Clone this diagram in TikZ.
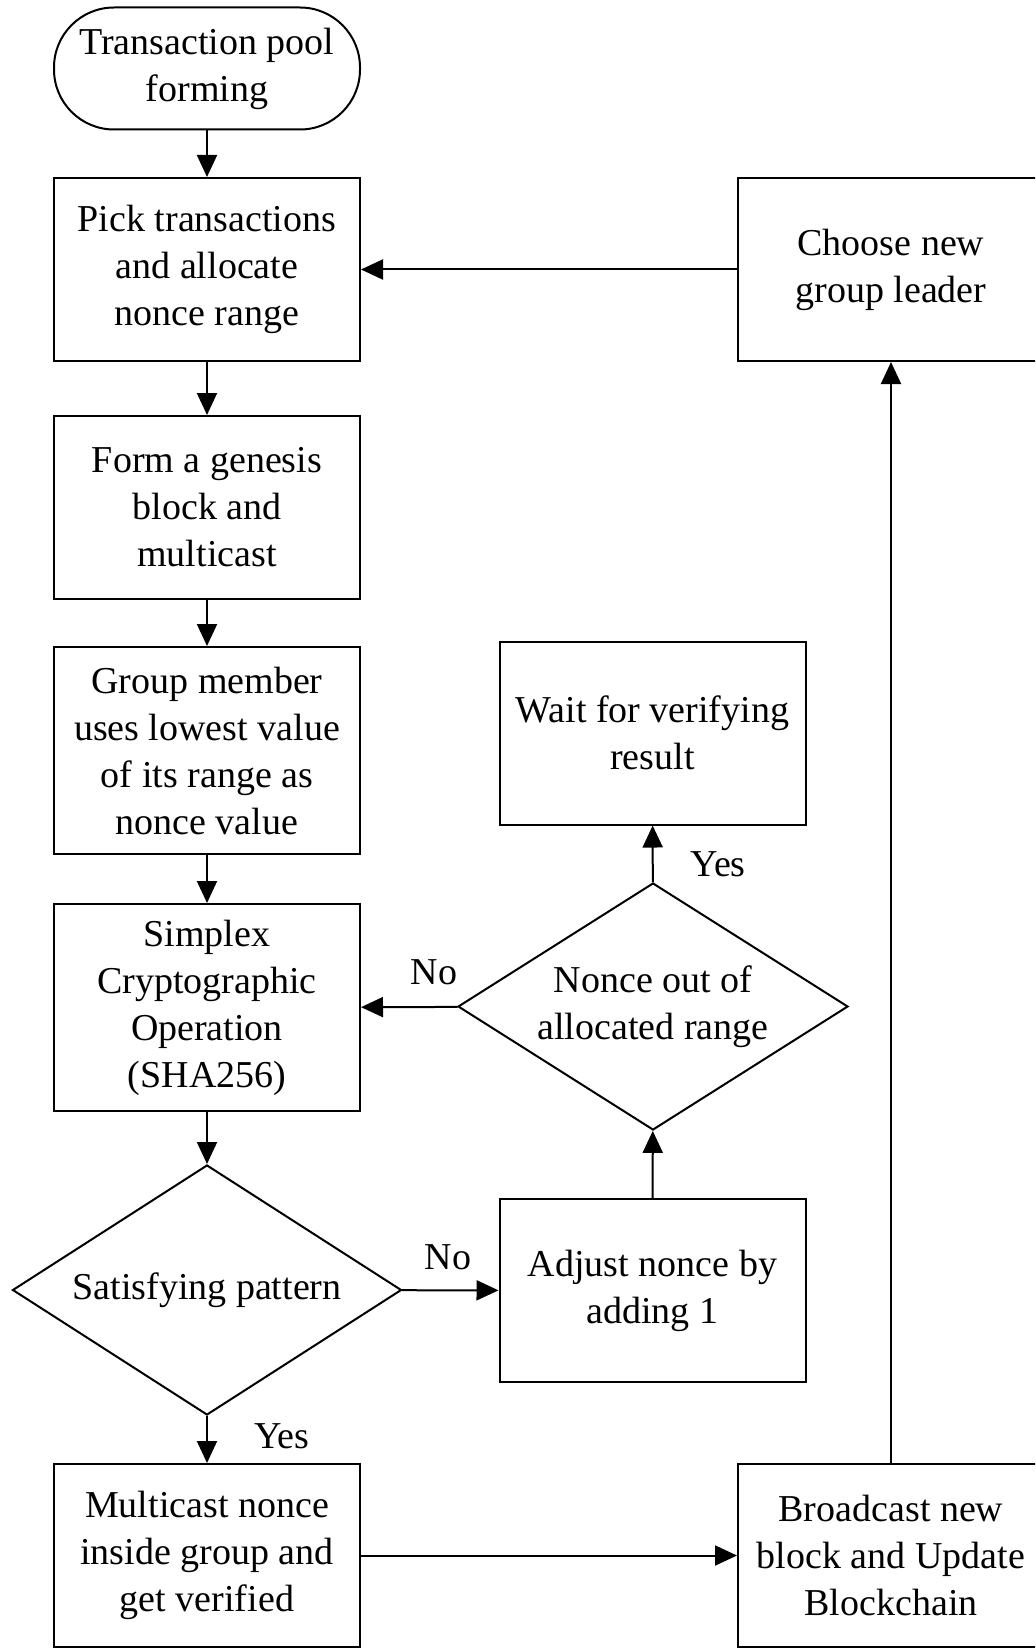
\documentclass[tikz,border=0pt]{standalone}
\usepackage{fontspec}
\setmainfont{Liberation Serif}
\usetikzlibrary{shapes.geometric,arrows.meta}
\begin{document}
\begin{tikzpicture}[x=0.5pt,y=-0.5pt,
  every node/.style={font=\fontsize{19}{23.5}\selectfont, align=center},
  box/.style={draw, line width=1pt, minimum width=153pt, minimum height=91.5pt, inner sep=0pt},
  tall/.style={box, minimum height=103.5pt},
  term/.style={draw, line width=1pt, rounded corners=30pt, minimum width=153pt, minimum height=61pt, inner sep=0pt},
  dec/.style={draw, line width=1pt, diamond, shape aspect=1.56, inner sep=0pt},
  arr/.style={line width=1pt, -{Triangle[length=11pt,width=10pt]}},
  lab/.style={inner sep=0pt}]
\clip (0,0) rectangle (1035,1648);
\node[term] (term) at (207,68.5) {Transaction pool\\forming};
\node[box] (pick) at (207,269.5) {Pick transactions\\and allocate\\nonce range};
\node[box] (form) at (207,507.5) {Form a genesis\\block and\\multicast};
\node[tall] (group) at (207,750.5) {Group member\\uses lowest value\\of its range as\\nonce value};
\node[tall] (simplex) at (207,1007.5) {Simplex\\Cryptographic\\Operation\\(SHA256)};
\node[dec, minimum width=194.5pt, minimum height=125pt] (sat) at (207,1290) {Satisfying pattern};
\node[box] (multi) at (207,1555.5) {Multicast nonce\\inside group and\\get verified};
\node[box] (adjust) at (652.5,1290.5) {Adjust nonce by\\adding 1};
\node[dec, minimum width=195pt, minimum height=123.5pt] (range) at (653,1006.5) {Nonce out of\\allocated range};
\node[box] (wait) at (652.5,733) {Wait for verifying\\result};
\node[box] (broad) at (891,1555.5) {Broadcast new\\block and Update\\Blockchain};
\node[box] (choose) at (891,269.5) {Choose new\\group leader};

\draw[arr] (term) -- (pick);
\draw[arr] (pick) -- (form);
\draw[arr] (form) -- (group);
\draw[arr] (group) -- (simplex);
\draw[arr] (simplex) -- (sat);
\draw[arr] (sat) -- (multi);
\draw[arr] (sat) -- (adjust);
\draw[arr] (adjust) -- (range);
\draw[arr] (range) -- (wait);
\draw[arr] (range) -- (simplex);
\draw[arr] (multi) -- (broad);
\draw[arr] (broad) -- (choose);
\draw[arr] (choose) -- (pick);

\node[lab] (y1) at (718,864) {Yes};
\node[lab] (n1) at (434,972) {No};
\node[lab] (n2) at (448,1257) {No};
\node[lab] (y2) at (282,1436) {Yes};
\end{tikzpicture}
\end{document}
